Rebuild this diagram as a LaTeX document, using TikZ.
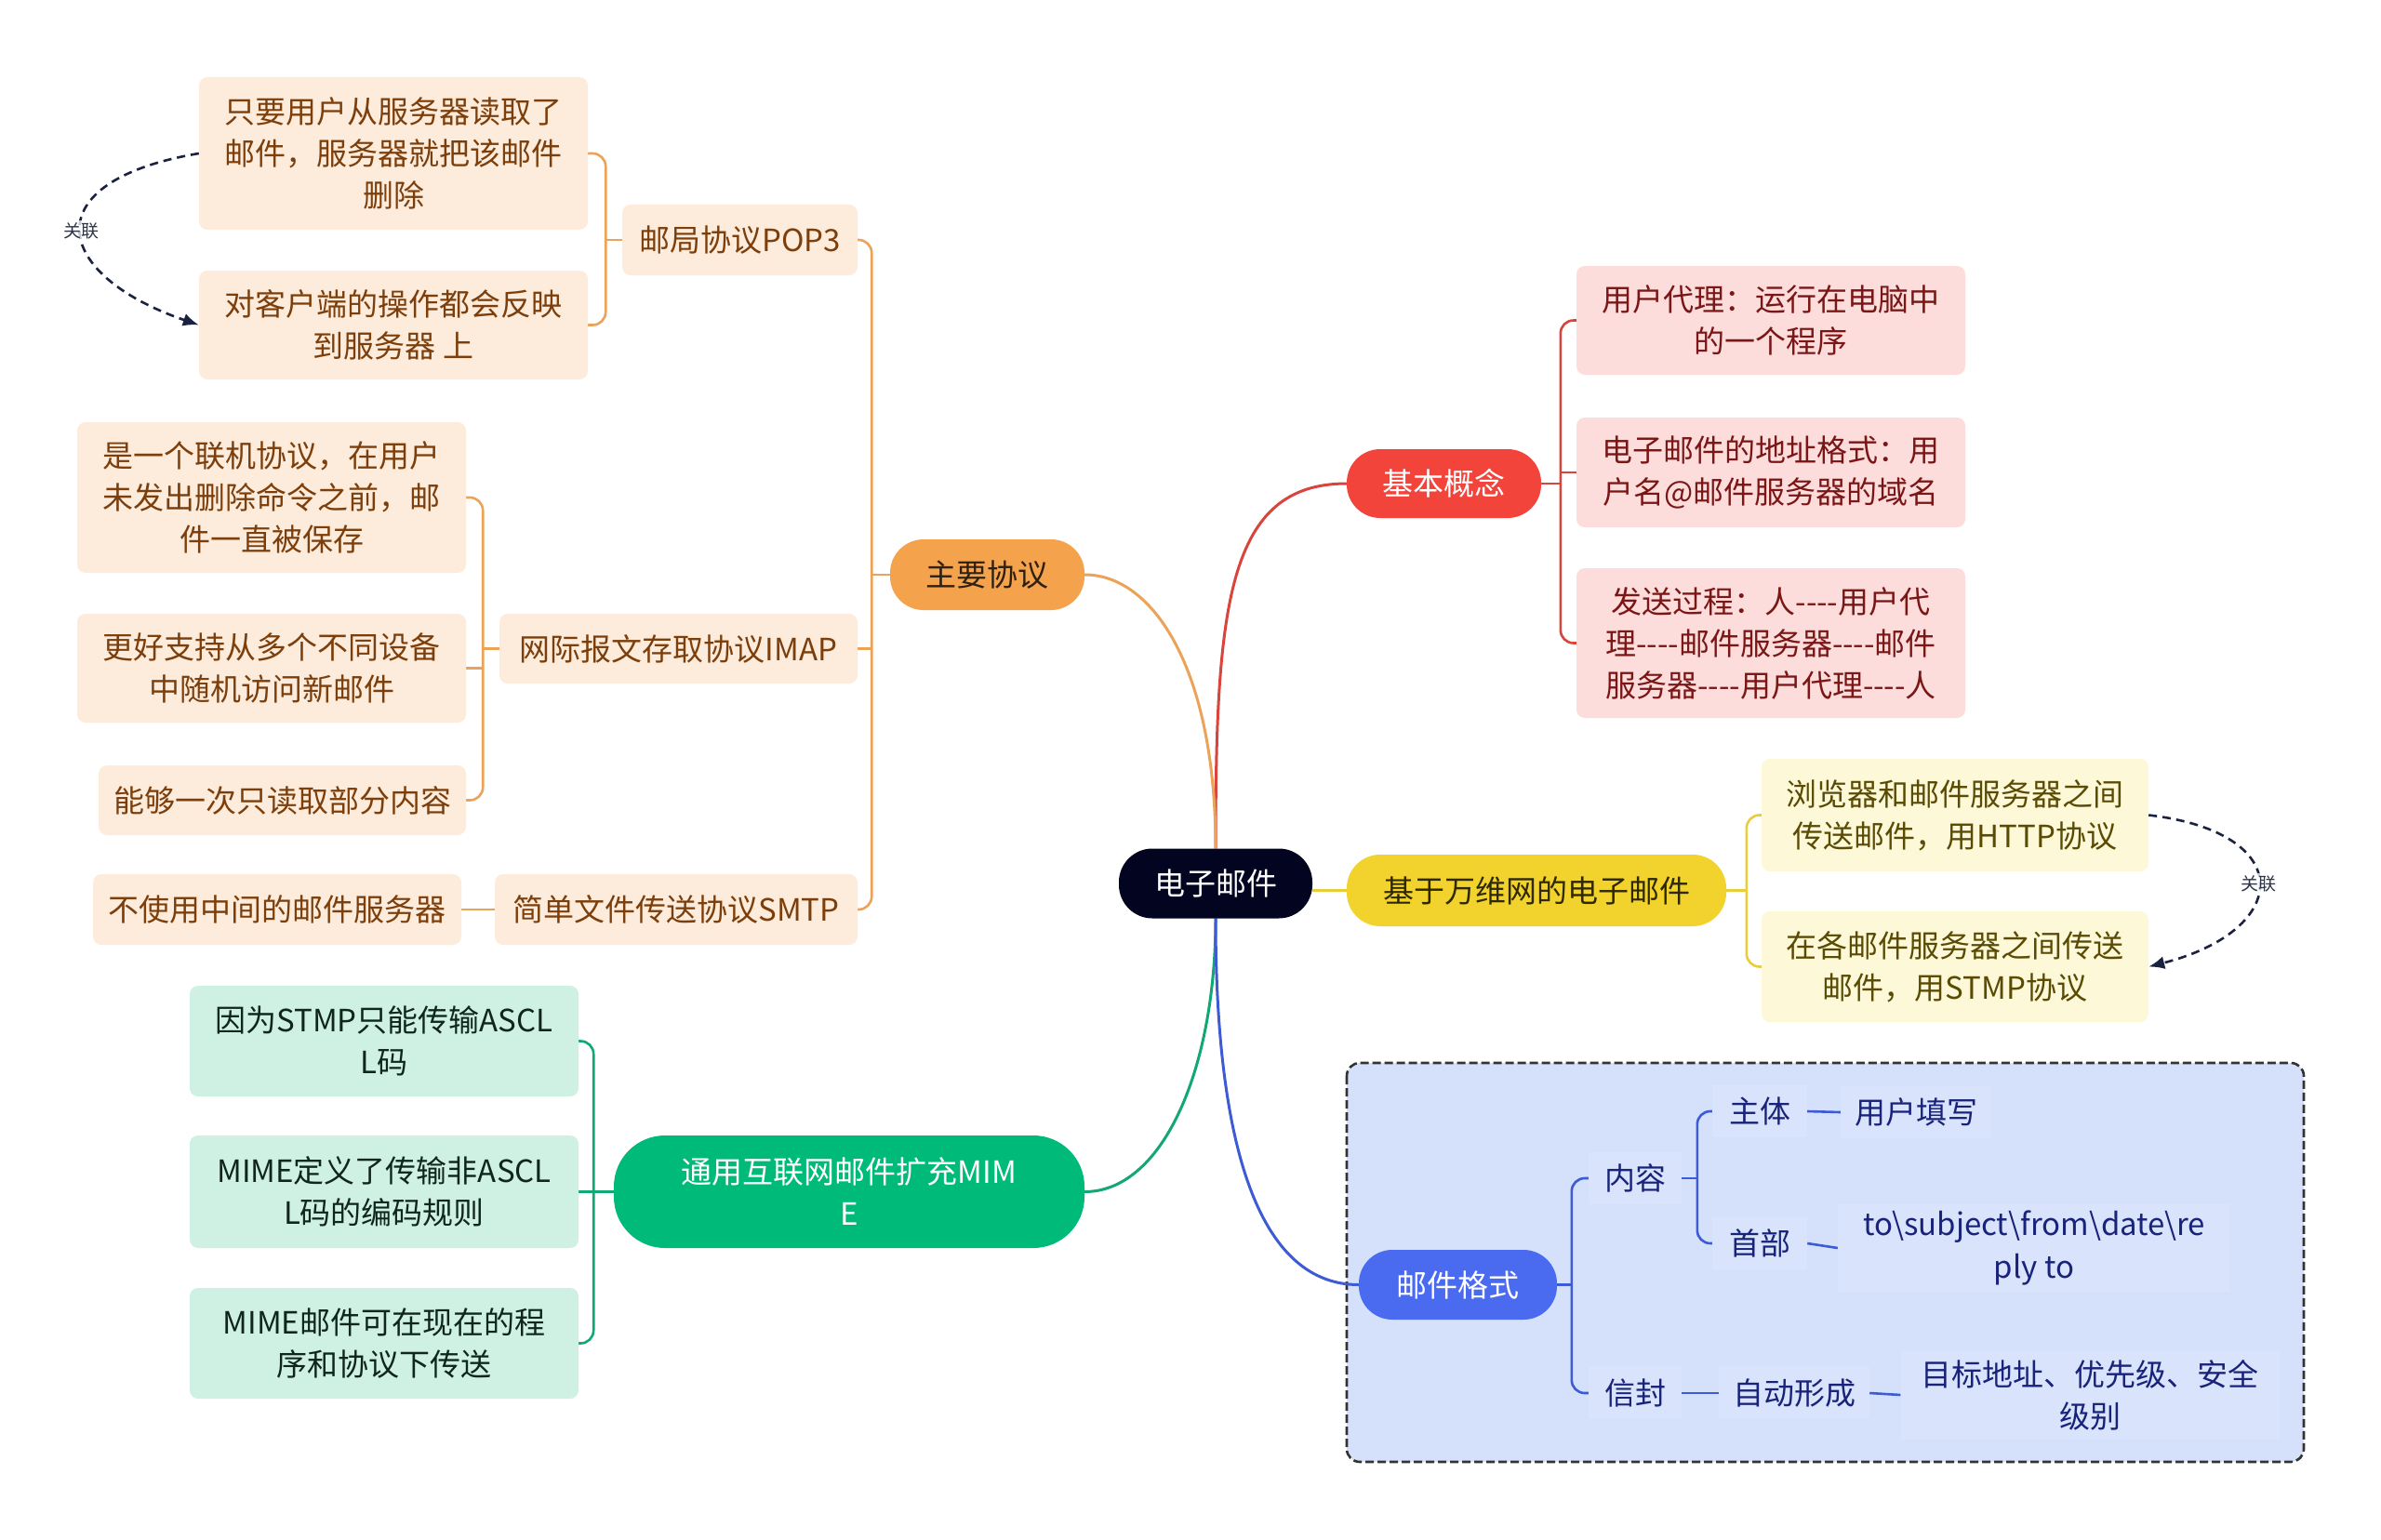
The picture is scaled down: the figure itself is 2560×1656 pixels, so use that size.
\documentclass[tikz,border=0pt]{standalone}
\usepackage{fontspec}
\setmainfont{Noto Sans CJK SC}
\usetikzlibrary{calc,arrows.meta}
\pgfdeclarelayer{bgzero}
\pgfdeclarelayer{bgone}
\pgfsetlayers{bgzero,bgone,main}
\newcommand\hy{-\kern0pt}
\definecolor{cnavy}{HTML}{03041F}
\definecolor{redf}{HTML}{F2443B}
\definecolor{redl}{HTML}{D9453D}
\definecolor{pinkf}{HTML}{FDDCDC}
\definecolor{pinkt}{HTML}{7A1616}
\definecolor{orgf}{HTML}{F5A24D}
\definecolor{orgl}{HTML}{EBA35A}
\definecolor{orgpt}{HTML}{2E2110}
\definecolor{peachf}{HTML}{FDEBDC}
\definecolor{peacht}{HTML}{7C3F0B}
\definecolor{yelf}{HTML}{F2D22C}
\definecolor{yell}{HTML}{E9CD3A}
\definecolor{yelpt}{HTML}{2E2900}
\definecolor{lyelf}{HTML}{FDF8D8}
\definecolor{lyelt}{HTML}{5A4B04}
\definecolor{grnf}{HTML}{00BA7A}
\definecolor{grnl}{HTML}{12A873}
\definecolor{lgrnf}{HTML}{CEF1E3}
\definecolor{lgrnt}{HTML}{10261C}
\definecolor{bluf}{HTML}{4A6BF0}
\definecolor{blul}{HTML}{3E5BD6}
\definecolor{blubg}{HTML}{D5E1FB}
\definecolor{boxb}{HTML}{D9E4FC}
\definecolor{blut}{HTML}{19237A}
\definecolor{relc}{HTML}{1B2140}
\definecolor{labc}{HTML}{2F3545}
\begin{document}
\begin{tikzpicture}[x=1pt,y=-1pt,
  every node/.style={font=\fontsize{33}{45}\selectfont, inner sep=0pt, align=center},
  pill/.style={rounded corners=36pt},
  leaf/.style={rounded corners=9pt},
  conn/.style={line width=3pt},
  br/.style={line width=2.6pt, rounded corners=14pt},
  rel/.style={line width=2.6pt, draw=relc, dash pattern=on 9pt off 6pt, -{Latex[length=17pt,width=14pt]}},
  rlab/.style={font=\fontsize{19}{22}\selectfont, fill=white, fill opacity=0.75, text opacity=1, text=labc, inner sep=2pt},
  redleaf/.style={leaf, fill=pinkf, text=pinkt, minimum width=418pt},
  orgleaf/.style={leaf, fill=peachf, text=peacht},
  yelleaf/.style={leaf, fill=lyelf, text=lyelt, minimum width=416pt},
  grnleaf/.style={leaf, fill=lgrnf, text=lgrnt, minimum width=418pt},
  blutext/.style={fill=boxb, text=blut, minimum height=56pt},
]
\useasboundingbox (0,0) rectangle (2560,1656);
\begin{pgfonlayer}{bgzero}
\fill[white] (0,0) rectangle (2560,1656);
\draw[line width=2.6pt, draw=black!80, dash pattern=on 9pt off 4pt, fill=blubg, rounded corners=14pt] (1448,1143) rectangle (2477,1572);
\end{pgfonlayer}

% root
\node[fill=cnavy, text=white, pill, minimum width=208pt, minimum height=75pt] (root) at (1307,950) {电子邮件};

% basic concepts
\node[fill=redf, text=white, pill, minimum width=209pt, minimum height=74pt] (basic) at (1552.5,520) {基本概念};
\node[redleaf, minimum height=117pt] (b1) at (1904,344.5) {用户代理：运行在电脑中\\的一个程序};
\node[redleaf, minimum height=118pt] (b2) at (1904,508) {电子邮件的地址格式：用\\户名@邮件服务器的域名};
\node[redleaf, minimum height=161pt] (b3) at (1904,691.5) {发送过程：人\hy\hy\hy\hy 用户代\\理\hy\hy\hy\hy 邮件服务器\hy\hy\hy\hy 邮件\\服务器\hy\hy\hy\hy 用户代理\hy\hy\hy\hy 人};

% main protocols
\node[fill=orgf, text=orgpt, pill, minimum width=209pt, minimum height=76pt] (proto) at (1061.5,618) {主要协议};
\node[orgleaf, minimum width=253pt, minimum height=76pt] (pop3) at (795.5,258) {邮局协议POP3};
\node[orgleaf, minimum width=385pt, minimum height=75pt] (imap) at (729.5,697.5) {网际报文存取协议IMAP};
\node[orgleaf, minimum width=390pt, minimum height=76pt] (smtp) at (727,978) {简单文件传送协议SMTP};
\node[orgleaf, minimum width=418pt, minimum height=164pt] (popa) at (423,165) {只要用户从服务器读取了\\邮件，服务器就把该邮件\\删除};
\node[orgleaf, minimum width=418pt, minimum height=117pt] (popb) at (423,349.5) {对客户端的操作都会反映\\到服务器 上};
\node[orgleaf, minimum width=418pt, minimum height=162pt] (imapa) at (292,535) {是一个联机协议，在用户\\未发出删除命令之前，邮\\件一直被保存};
\node[orgleaf, minimum width=418pt, minimum height=117pt] (imapb) at (292,718.5) {更好支持从多个不同设备\\中随机访问新邮件};
\node[orgleaf, minimum width=395pt, minimum height=75pt] (imapc) at (303.5,860.5) {能够一次只读取部分内容};
\node[orgleaf, minimum width=396pt, minimum height=76pt] (smtpa) at (298,978) {不使用中间的邮件服务器};

% web mail
\node[fill=yelf, text=yelpt, pill, minimum width=408pt, minimum height=77pt] (web) at (1652,957.5) {基于万维网的电子邮件};
\node[yelleaf, minimum height=121pt] (weba) at (2102,876.5) {浏览器和邮件服务器之间\\传送邮件，用HTTP协议};
\node[yelleaf, minimum height=119pt] (webb) at (2102,1039.5) {在各邮件服务器之间传送\\邮件，用STMP协议};

% MIME
\node[fill=grnf, text=white, rounded corners=55pt, minimum width=506pt, minimum height=121pt] (mime) at (913,1281.5) {通用互联网邮件扩充MIM\\E};
\node[grnleaf, minimum height=119pt] (m1) at (413,1119.5) {因为STMP只能传输ASCL\\L码};
\node[grnleaf, minimum height=121pt] (m2) at (413,1281.5) {MIME定义了传输非ASCL\\L码的编码规则};
\node[grnleaf, minimum height=119pt] (m3) at (413,1444.5) {MIME邮件可在现在的程\\序和协议下传送};

% mail format
\node[fill=bluf, text=white, pill, minimum width=213pt, minimum height=75pt] (fmt) at (1567.5,1381.5) {邮件格式};
\node[blutext, minimum width=100pt] (content) at (1758,1267) {内容};
\node[blutext, minimum width=100pt] (env) at (1758,1498) {信封};
\node[blutext, minimum width=102pt] (body) at (1892,1195) {主体};
\node[blutext, minimum width=102pt] (head) at (1892,1337) {首部};
\node[blutext, minimum width=162pt] (fillin) at (2060,1196) {用户填写};
\node[blutext, minimum width=422pt, minimum height=94pt] (hdr) at (2187,1342) {to\textbackslash subject\textbackslash from\textbackslash date\textbackslash re\\ply to};
\node[blutext, minimum width=162pt] (auto) at (1929,1498) {自动形成};
\node[blutext, minimum width=407pt, minimum height=95pt] (goal) at (2247,1500) {目标地址、优先级、安全\\级别};

% bracket spine coordinates
\coordinate (kB) at ([xshift=-17pt]b1.west);
\coordinate (kP) at ([xshift=15pt]pop3.east);
\coordinate (kQ) at ([xshift=19pt]popa.east);
\coordinate (kI) at ([xshift=18pt]imapa.east);
\coordinate (kW) at ([xshift=-16pt]weba.west);
\coordinate (kM) at ([xshift=16pt]m1.east);
\coordinate (kF) at ([xshift=-18pt]content.west);
\coordinate (kC) at ([xshift=-16pt]body.west);

\begin{pgfonlayer}{bgone}
% root connectors
\draw[conn, draw=redl] (root.north) .. controls (1307,650) and (1320,520) .. (basic.west);
\draw[conn, draw=orgl] (root.north) .. controls (1307,720) and (1240,618) .. (proto.east);
\draw[conn, draw=yell] (root.east |- web.west) -- (web.west);
\draw[conn, draw=grnl] (root.south) .. controls (1307,1150) and (1250,1281.5) .. (mime.east);
\draw[conn, draw=blul] (root.south) .. controls (1307,1250) and (1360,1381.5) .. (fmt.west);

% basic
\draw[br, draw=redl] (b1.west) -| (kB |- b3.west) -- (b3.west);
\draw[br, draw=redl] (basic.east) -- (kB |- basic.east);
\draw[br, draw=redl] (b2.west) -- (kB |- b2.west);

% protocols
\draw[br, draw=orgl] (pop3.east) -| (kP |- smtp.east) -- (smtp.east);
\draw[br, draw=orgl] (proto.west) -- (kP |- proto.west);
\draw[br, draw=orgl] (imap.east) -- (kP |- imap.east);
\draw[br, draw=orgl] (popa.east) -| (kQ |- popb.east) -- (popb.east);
\draw[br, draw=orgl] (pop3.west) -- (kQ |- pop3.west);
\draw[br, draw=orgl] (imapa.east) -| (kI |- imapc.east) -- (imapc.east);
\draw[br, draw=orgl] (imapb.east) -- (kI |- imapb.east);
\draw[br, draw=orgl] (imap.west) -- (kI |- imap.west);
\draw[br, draw=orgl] (smtp.west) -- (smtpa.east);

% web
\draw[br, draw=yell] (weba.west) -| (kW |- webb.west) -- (webb.west);
\draw[br, draw=yell] (web.east) -- (kW |- web.east);

% mime
\draw[br, draw=grnl] (m1.east) -| (kM |- m3.east) -- (m3.east);
\draw[br, draw=grnl] (m2.east) -- (kM |- m2.east);
\draw[br, draw=grnl] (mime.west) -- (kM |- mime.west);

% format
\draw[br, draw=blul] (content.west) -| (kF |- env.west) -- (env.west);
\draw[br, draw=blul] (fmt.east) -- (kF |- fmt.east);
\draw[br, draw=blul] (body.west) -| (kC |- head.west) -- (head.west);
\draw[br, draw=blul] (content.east) -- (kC |- content.east);
\draw[br, draw=blul] (body.east) -- (fillin.west);
\draw[br, draw=blul] (head.east) -- (hdr.west);
\draw[br, draw=blul] (env.east) -- (auto.west);
\draw[br, draw=blul] (auto.east) -- (goal.west);
\end{pgfonlayer}

% relations
\draw[rel] (popa.west) .. controls (35,195) and (55,295) .. (popb.west) node[pos=0.5, rlab] {关联};
\draw[rel] (weba.east) .. controls (2470,895) and (2465,1000) .. (webb.east) node[pos=0.5, rlab] {关联};
\end{tikzpicture}
\end{document}
